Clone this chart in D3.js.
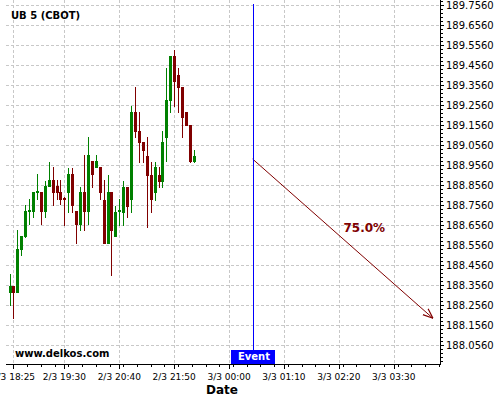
<!DOCTYPE html>
<html><head><meta charset="utf-8">
<script src="https://cdn.jsdelivr.net/npm/d3@7"></script>
<style>body{margin:0;background:#fff;} svg{display:block;font-family:"DejaVu Sans",sans-serif;}</style>
</head><body>
<svg id="chart" width="500" height="400"></svg>
<script>
// ---- data ----
const opens  = [188.321,188.351,188.321,188.536,188.601,188.726,188.726,188.821,188.821,188.726,188.851,188.881,188.851,188.821,188.791,188.821,188.911,188.724,188.659,188.821,188.726,188.974,188.944,188.944,188.781,188.566,188.821,188.600,188.724,188.723,188.848,188.786,189.223,189.128,189.070,189.003,188.908,188.820,188.908,188.878,189.098,189.283,189.503,189.408,189.348,189.223,189.158,188.975];
const highs  = [188.411,188.351,188.631,188.601,188.756,188.786,188.821,188.911,188.821,188.876,188.971,188.944,188.881,188.881,188.794,188.941,188.941,188.724,188.846,189.004,189.096,188.974,189.004,188.944,188.879,188.906,188.821,188.753,188.786,188.878,188.848,189.253,189.345,189.223,189.070,189.095,188.970,188.970,188.945,189.128,189.441,189.503,189.531,189.441,189.348,189.223,189.158,189.033];
const lows   = [188.256,188.191,188.321,188.506,188.596,188.661,188.696,188.786,188.661,188.696,188.851,188.756,188.784,188.761,188.656,188.721,188.721,188.566,188.629,188.629,188.659,188.846,188.944,188.786,188.566,188.566,188.408,188.600,188.658,188.658,188.695,188.723,189.095,188.973,188.973,188.648,188.723,188.781,188.845,188.845,188.975,189.220,189.253,189.220,189.095,189.158,188.971,188.971];
const closes = [188.351,188.321,188.536,188.601,188.726,188.731,188.821,188.828,188.726,188.851,188.881,188.821,188.821,188.784,188.786,188.911,188.756,188.659,188.821,188.726,189.004,188.909,188.974,188.821,188.566,188.821,188.631,188.723,188.729,188.848,188.753,189.223,189.128,189.070,189.033,188.908,188.784,188.945,188.878,189.070,189.283,189.503,189.378,189.348,189.195,189.158,188.975,189.003];
const xTickIdx    = [1,14,28,42,56,70,84,98];
const xTickLabels = ["2/3 18:25","2/3 19:30","2/3 20:40","2/3 21:50","3/3 00:00","3/3 01:10","3/3 02:20","3/3 03:30"];
const yTicks = [188.056,188.156,188.256,188.356,188.456,188.556,188.656,188.756,188.856,188.956,189.056,189.156,189.256,189.356,189.456,189.556,189.656,189.756];
const eventIdx = 62;
const arrowFrom = {i:62, v:188.986};
const arrowTo   = {i:108, v:188.1895};
const arrowLabel = "75.0%";
const labelPos = {i:90.5, v:188.621};
const title = "UB 5 (CBOT)";
const site = "www.delkos.com";

// ---- layout ----
const L = 6, R = 440, T = 0, B = 364;
const svg = d3.select("#chart");
const x = d3.scaleLinear().domain([-0.9, 109.8]).range([L, R]);
const y = d3.scaleLinear().domain([187.961, 189.781]).range([B, T]);
const px = i => Math.round(x(i));
const py = v => Math.round(y(v));

const green = "#008000", red = "#800000", gridC = "#c8c8c8", blue = "#0000ff";

// grid
const g = svg.append("g").attr("shape-rendering","crispEdges");
g.selectAll(".hg").data(yTicks).enter().append("line")
  .attr("x1", L).attr("x2", R).attr("y1", d=>py(d)+0.5).attr("y2", d=>py(d)+0.5)
  .attr("stroke", gridC).attr("stroke-dasharray","3,2");
g.selectAll(".vg").data(xTickIdx).enter().append("line")
  .attr("x1", d=>px(d)+0.5).attr("x2", d=>px(d)+0.5).attr("y1", T).attr("y2", B)
  .attr("stroke", gridC).attr("stroke-dasharray","3,2");

// candles
const idx = d3.range(opens.length);
const cg = svg.append("g").attr("shape-rendering","crispEdges");
cg.selectAll(".wick").data(idx).enter().append("line")
  .attr("x1", i=>px(i)+0.5).attr("x2", i=>px(i)+0.5)
  .attr("y1", i=>py(highs[i])).attr("y2", i=>py(lows[i])+1)
  .attr("stroke", i=> closes[i]>=opens[i]?green:red);
cg.selectAll(".body").data(idx).enter().append("rect")
  .attr("x", i=>px(i)-1).attr("width", 3)
  .attr("y", i=>py(Math.max(opens[i],closes[i])))
  .attr("height", i=>Math.max(1, py(Math.min(opens[i],closes[i]))-py(Math.max(opens[i],closes[i]))+1))
  .attr("fill", i=> closes[i]>=opens[i]?green:red);

// arrow
svg.append("defs").append("marker").attr("id","ah")
  .attr("viewBox","0 0 10 10").attr("refX",10).attr("refY",5)
  .attr("markerWidth",10).attr("markerHeight",10).attr("markerUnits","userSpaceOnUse")
  .attr("orient","auto")
  .append("path").attr("d","M0,1 L10,5 L0,9").attr("fill","none").attr("stroke",red).attr("stroke-width",1.2);
svg.append("line")
  .attr("x1", x(arrowFrom.i)).attr("y1", y(arrowFrom.v))
  .attr("x2", x(arrowTo.i)).attr("y2", y(arrowTo.v))
  .attr("stroke", red).attr("stroke-width",1).attr("marker-end","url(#ah)");
svg.append("text").attr("x", x(labelPos.i)).attr("y", y(labelPos.v))
  .attr("text-anchor","middle").attr("font-size",12).attr("font-weight","bold")
  .attr("fill", red).text(arrowLabel);

// right axis
const ya = svg.append("g").attr("shape-rendering","crispEdges");
ya.append("line").attr("x1",R+0.5).attr("x2",R+0.5).attr("y1",T).attr("y2",B+0.5).attr("stroke","#000");
const minorY = d3.range(0, 91).map(k => 187.976 + k*0.02).filter(v => y(v) >= T && y(v) <= B);
ya.selectAll(".mt").data(minorY).enter().append("line")
  .attr("x1",R).attr("x2",R+3).attr("y1",d=>py(d)+0.5).attr("y2",d=>py(d)+0.5).attr("stroke","#000");
ya.selectAll(".Mt").data(yTicks).enter().append("line")
  .attr("x1",R).attr("x2",R+4).attr("y1",d=>py(d)+0.5).attr("y2",d=>py(d)+0.5).attr("stroke","#000");
svg.selectAll(".yl").data(yTicks).enter().append("text")
  .attr("x", R+6).attr("y", d=>y(d)).attr("dy","0.35em")
  .attr("font-size",10).attr("fill","#000").text(d=>d.toFixed(4));

// bottom axis
const xa = svg.append("g").attr("shape-rendering","crispEdges");
xa.append("line").attr("x1",L).attr("x2",R+1).attr("y1",B+0.5).attr("y2",B+0.5).attr("stroke","#000");
const minorX = d3.range(-20, 140).map(k => 1 + k*3.5).filter(v => x(v) >= L && x(v) <= R);
xa.selectAll(".mx").data(minorX).enter().append("line")
  .attr("x1",d=>px(d)+0.5).attr("x2",d=>px(d)+0.5).attr("y1",B).attr("y2",B+3).attr("stroke","#000");
xa.selectAll(".Mx").data(xTickIdx).enter().append("line")
  .attr("x1",d=>px(d)+0.5).attr("x2",d=>px(d)+0.5).attr("y1",B).attr("y2",B+5).attr("stroke","#000");
svg.selectAll(".xl").data(xTickIdx).enter().append("text")
  .attr("x", d=>x(d)).attr("y", 379.5).attr("text-anchor","middle")
  .attr("font-size",9).attr("fill","#000").text((d,k)=>xTickLabels[k]);
svg.append("text").attr("x",222).attr("y",394).attr("text-anchor","middle")
  .attr("font-size",12).attr("font-weight","bold").text("Date");

// event line and label
svg.append("rect").attr("x", px(eventIdx)).attr("y", 4).attr("width", 1).attr("height", B-4)
  .attr("shape-rendering","crispEdges").style("fill", blue);
svg.append("rect").attr("x", px(eventIdx)-22).attr("y", 350).attr("width", 44).attr("height", 14).style("fill", blue);
svg.append("text").attr("x", px(eventIdx)+1).attr("y", 360).attr("text-anchor","middle")
  .attr("font-size",10).attr("font-weight","bold").attr("fill","#fff").text("Event");

// title & site
svg.append("text").attr("x",11).attr("y",19).attr("font-size",10).attr("font-weight","bold").text(title);
svg.append("text").attr("x",15).attr("y",357).attr("font-size",10).attr("font-weight","bold").text(site);
</script>
</body></html>
